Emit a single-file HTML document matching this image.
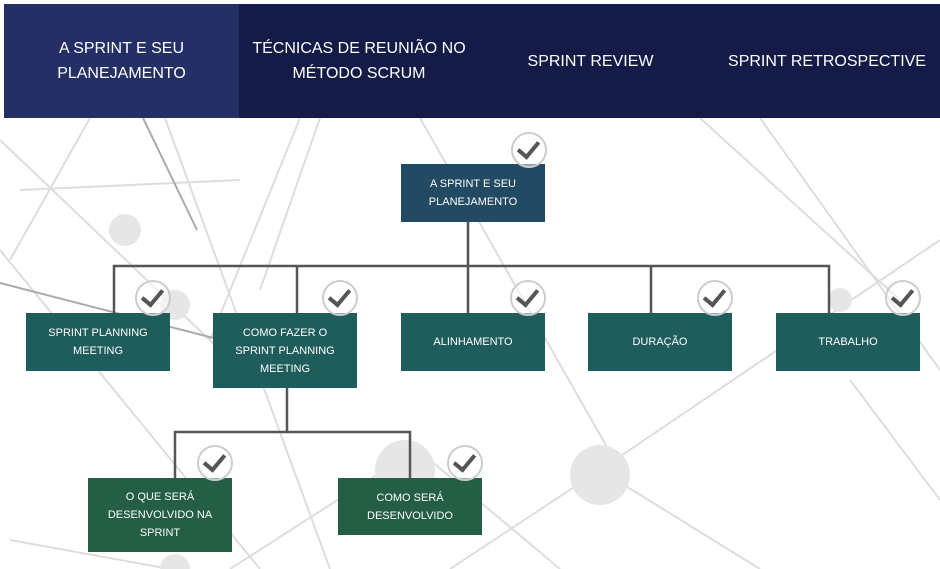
<!DOCTYPE html>
<html><head><meta charset="utf-8"><style>
body{margin:0;width:940px;height:569px;background:#fff;position:relative;overflow:hidden;font-family:"Liberation Sans",sans-serif}
.hdr{position:absolute;top:4px;left:4px;width:936px;height:114px;background:#141b47}
.tab{position:absolute;top:0;height:114px;display:flex;align-items:center;justify-content:center;text-align:center;color:#fff;font-size:16px;line-height:25px}
.n{position:absolute;display:flex;align-items:center;justify-content:center;text-align:center;color:#fff;font-size:11px;line-height:18px;width:144px}
.c{position:absolute;width:32px;height:32px;border:2px solid #ccc;border-radius:50%;background:rgba(255,255,255,.5)}
.c::after{content:"";position:absolute;left:9px;top:3px;width:9px;height:17px;border-right:4px solid #555;border-bottom:4px solid #555;transform:rotate(40deg)}
</style></head><body>
<svg width="940" height="569" style="position:absolute;left:0;top:0">
<g stroke="#ddd" stroke-width="2" fill="none">
<line x1="90" y1="118" x2="10" y2="260"/><line x1="165" y1="118" x2="330" y2="569"/><line x1="0" y1="250" x2="260" y2="569"/>
<line x1="300" y1="118" x2="210" y2="340"/><line x1="320" y1="118" x2="260" y2="290"/><line x1="0" y1="140" x2="215" y2="345"/>
<line x1="600" y1="470" x2="940" y2="240"/><line x1="600" y1="470" x2="450" y2="569"/><line x1="600" y1="470" x2="760" y2="569"/>
<line x1="760" y1="118" x2="940" y2="370"/><line x1="420" y1="118" x2="620" y2="470"/><line x1="10" y1="540" x2="170" y2="569"/>
<line x1="700" y1="118" x2="900" y2="300"/><line x1="20" y1="190" x2="240" y2="180"/><line x1="400" y1="460" x2="230" y2="569"/>
<line x1="850" y1="380" x2="940" y2="500"/><line x1="560" y1="569" x2="430" y2="460"/>
</g>
<g stroke="#aaa" stroke-width="2"><line x1="143" y1="118" x2="197" y2="230"/><line x1="0" y1="283" x2="260" y2="350"/></g>
<g fill="#e6e6e6"><circle cx="125" cy="230" r="16"/><circle cx="405" cy="470" r="30"/><circle cx="600" cy="475" r="30"/><circle cx="175" cy="569" r="15"/><circle cx="175" cy="305" r="15"/><circle cx="840" cy="300" r="12"/></g>
<g stroke="#555" stroke-width="2.5" fill="none">
<line x1="468" y1="222" x2="468" y2="266"/><polyline points="114,313 114,266 829,266 829,313"/>
<line x1="297" y1="266" x2="297" y2="313"/><line x1="468" y1="266" x2="468" y2="313"/><line x1="651" y1="266" x2="651" y2="313"/>
<line x1="287" y1="388" x2="287" y2="432"/><polyline points="175,478 175,432 410,432 410,478"/>
</g></svg>
<div class="hdr">
<div class="tab" style="left:0;width:235px;background:#243065">A SPRINT E SEU<br>PLANEJAMENTO</div>
<div class="tab" style="left:235px;width:240px">TÉCNICAS DE REUNIÃO NO<br>MÉTODO SCRUM</div>
<div class="tab" style="left:480px;width:213px">SPRINT REVIEW</div>
<div class="tab" style="left:710px;width:226px">SPRINT RETROSPECTIVE</div>
</div>
<div class="n" style="left:401px;top:164px;height:58px;background:#234a63">A SPRINT E SEU<br>PLANEJAMENTO</div>
<div class="n" style="left:26px;top:313px;height:58px;background:#1f5c5c">SPRINT PLANNING<br>MEETING</div>
<div class="n" style="left:213px;top:313px;height:75px;background:#1f5c5c">COMO FAZER O<br>SPRINT PLANNING<br>MEETING</div>
<div class="n" style="left:401px;top:313px;height:58px;background:#1f5c5c">ALINHAMENTO</div>
<div class="n" style="left:588px;top:313px;height:58px;background:#1f5c5c">DURAÇÃO</div>
<div class="n" style="left:776px;top:313px;height:58px;background:#1f5c5c">TRABALHO</div>
<div class="n" style="left:88px;top:478px;height:74px;background:#235e45">O QUE SERÁ<br>DESENVOLVIDO NA<br>SPRINT</div>
<div class="n" style="left:338px;top:478px;height:57px;background:#235e45">COMO SERÁ<br>DESENVOLVIDO</div>
<div class="c" style="left:511px;top:132px"></div>
<div class="c" style="left:135px;top:280px"></div>
<div class="c" style="left:322px;top:280px"></div>
<div class="c" style="left:510px;top:280px"></div>
<div class="c" style="left:697px;top:280px"></div>
<div class="c" style="left:885px;top:280px"></div>
<div class="c" style="left:197px;top:445px"></div>
<div class="c" style="left:447px;top:445px"></div>
</body></html>
